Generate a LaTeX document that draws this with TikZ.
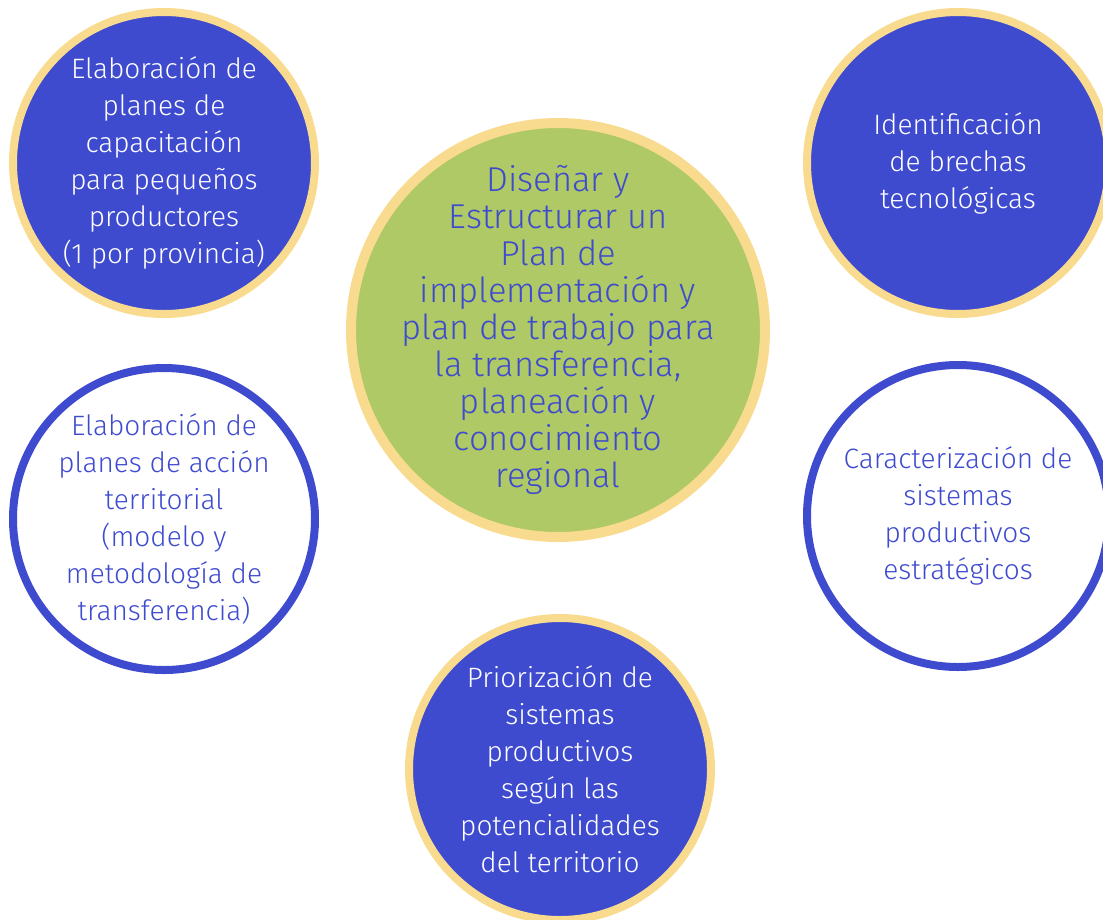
\documentclass[tikz,border=0pt]{standalone}
\usepackage{fontspec}
\setmainfont{Fira Sans}[UprightFont={* Light}]
\usetikzlibrary{positioning}

\definecolor{planblue}{RGB}{63,75,207}
\definecolor{ringyellow}{RGB}{249,219,143}
\definecolor{plangreen}{RGB}{174,201,101}

\begin{document}
\begin{tikzpicture}[x=1pt, y=-1pt,
  bubble/.style={circle, draw=ringyellow, line width=8pt, fill=planblue,
                 minimum size=302pt, inner sep=-40pt, align=center,
                 text=white, font=\fontsize{28}{37}\selectfont},
  openbubble/.style={bubble, draw=planblue, fill=white, text=planblue},
  hub/.style={bubble, line width=10pt, fill=plangreen, text=planblue,
              minimum size=414pt, font=\fontsize{34.5}{37}\selectfont}]
  \useasboundingbox (0,0) rectangle (1103,919);

  \node[hub] (plan) at (558,330)
    {Diseñar y\\Estructurar un\\Plan de\\implementación y\\plan de trabajo para\\la transferencia,\\planeación y\\conocimiento\\regional};

  \node[bubble] (capacit) at (164,163)
    {Elaboración de\\planes de\\capacitación\\para pequeños\\productores\\(1 por provincia)};
  \node[bubble] (brechas) at (958,163)
    {Identificación\\de brechas\\tecnológicas};
  \node[openbubble] (accion) at (164,519)
    {Elaboración de\\planes de acción\\territorial\\(modelo y\\metodología de\\transferencia)};
  \node[openbubble] (caract) at (958,516)
    {Caracterización de\\sistemas\\productivos\\estratégicos};
  \node[bubble] (prioriz) at (560,769)
    {Priorización de\\sistemas\\productivos\\según las\\potencialidades\\del territorio};
\end{tikzpicture}
\end{document}
